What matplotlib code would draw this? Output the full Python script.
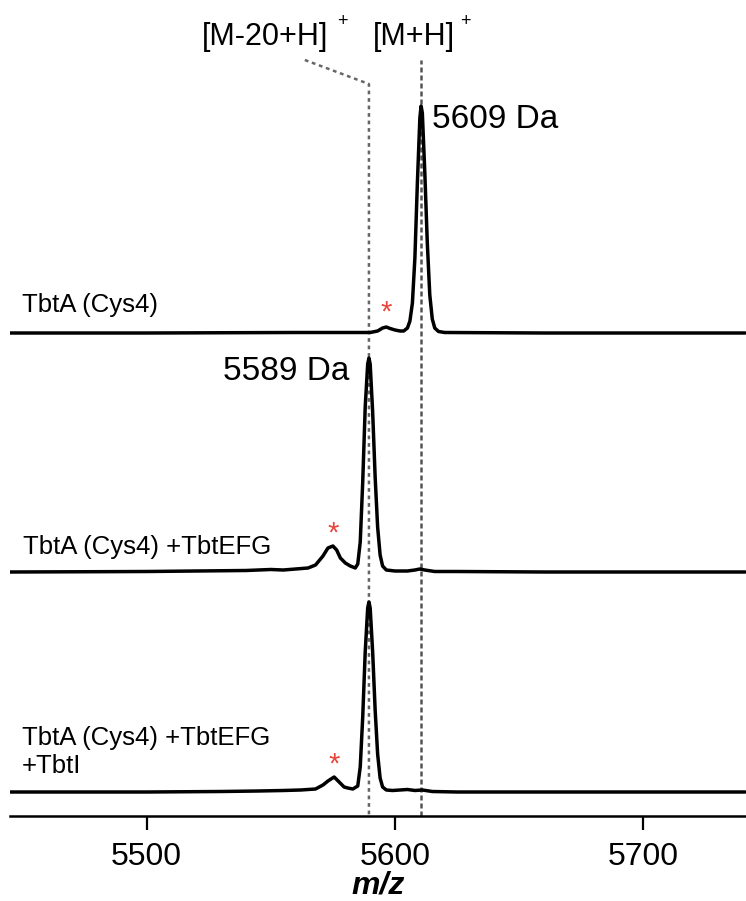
import matplotlib
matplotlib.use("Agg")
import matplotlib.pyplot as plt

plt.rcParams['font.family'] = ['Liberation Sans', 'DejaVu Sans']

# spectra (m/z, intensity in a.u.)
mz_cys4 = [5445, 5500, 5560, 5590, 5593, 5595, 5596.5, 5598, 5600, 5602, 5603.5,
           5605, 5606, 5607, 5608, 5609, 5610, 5610.5, 5611, 5612, 5613,
           5614, 5615, 5616, 5617.5, 5620, 5660, 5741]
int_cys4 = [0, 0, 0.5, 0.5, 2, 5, 6, 4.5, 3, 2, 2,
            5, 12, 30, 75, 150, 215, 227, 220, 160, 90,
            38, 14, 5, 1.5, 0.5, 0, 0]

mz_efg = [5445, 5480, 5500, 5520, 5540, 5550, 5555, 5560, 5565, 5568, 5571, 5573,
          5575, 5576.5, 5578, 5580, 5582, 5584, 5585, 5586, 5587, 5588,
          5589, 5589.5, 5590, 5591, 5592, 5593, 5594, 5595, 5596.5, 5600, 5605, 5608,
          5610, 5612, 5616, 5625, 5660, 5741]
int_efg = [0, 0.3, 0.5, 1, 1.5, 2.5, 2, 3, 4, 7, 16, 24,
           26, 22, 14, 9, 6, 4, 8, 30, 90, 165,
           208, 214, 208, 160, 95, 45, 17, 6, 2, 1, 1, 2,
           3, 2, 0.5, 0.5, 0, 0]

mz_efgi = [5445, 5500, 5530, 5545, 5555, 5562, 5568, 5571, 5573, 5575.5, 5577.5,
           5579.5, 5581, 5583, 5585, 5586, 5587, 5588, 5589, 5589.5, 5590,
           5591, 5592, 5593, 5594, 5595, 5596.5, 5599, 5602, 5605, 5608, 5611,
           5615, 5625, 5741]
int_efgi = [0, 0, 0.5, 1, 1.5, 2, 3, 7, 11, 15, 10,
            5, 4, 3, 6, 25, 75, 140, 184, 190, 184,
            140, 82, 38, 14, 5, 2, 1.5, 2, 2.5, 1.5, 2,
            0.5, 0, 0]

spectra = [(mz_cys4, int_cys4), (mz_efg, int_efg), (mz_efgi, int_efgi)]
labels = ['TbtA (Cys4)', 'TbtA (Cys4) +TbtEFG', 'TbtA (Cys4) +TbtEFG\n+TbtI']
impurity_mz = [5596.4, 5575, 5575.4]
mass_full = 5610.5   # [M+H]+
mass_minus20 = 5589.5  # [M-20+H]+

W, H = 746, 901
fig = plt.figure(figsize=(W / 100, H / 100), dpi=100)
ax = fig.add_axes([10 / W, (H - 816) / H, 736 / W, 816 / H])
ax.set_xlim(5445, 5741.3)
ax.set_ylim(0, 816)

offsets = [483, 244, 24]
for (mz, inten), off in zip(spectra, offsets):
    ax.plot(mz, [v + off for v in inten], color='black', lw=2.5,
            solid_joinstyle='round', solid_capstyle='round')

# asterisks over the side peaks
ast_y = [816 - 313, 816 - 534, 816 - 765]
for x, y in zip(impurity_mz, ast_y):
    ax.text(x, y, '*', color='#e8453c', fontsize=21, ha='center', va='center')

# reference lines
ax.plot([mass_full, mass_full], [0, 756], color='#555555', lw=1.8,
        ls=(0, (2, 1.2)), zorder=0)
ax.plot([5563.7, mass_minus20, mass_minus20], [756, 732, 0], color='#666666',
        lw=1.8, ls=(0, (1.5, 1.5)), zorder=0)

# left labels
fig.text(22 / W, 1 - 305 / H, labels[0], fontsize=18.5, va='center')
fig.text(23 / W, 1 - 547 / H, labels[1], fontsize=18.5, va='center')
fig.text(22 / W, 1 - 752 / H, labels[2], fontsize=18.5, va='center', linespacing=1.2)

fig.text(432 / W, 1 - 119 / H, '5609 Da', fontsize=24, va='center')
fig.text(223 / W, 1 - 371 / H, '5589 Da', fontsize=24, va='center')

fig.text(202 / W, 1 - 37 / H, '[M-20+H]', fontsize=22, va='center')
fig.text(337 / W, 1 - 21 / H, '+', fontsize=13, va='center')
fig.text(373 / W, 1 - 37 / H, '[M+H]', fontsize=22, va='center')
fig.text(460 / W, 1 - 21 / H, '+', fontsize=13, va='center')

for s in ['top', 'left', 'right']:
    ax.spines[s].set_visible(False)
ax.spines['bottom'].set_linewidth(1.8)
ax.set_yticks([])
ax.set_xticks([5500, 5600, 5700])
ax.tick_params(axis='x', direction='out', length=10, width=1.6, labelsize=23, pad=9)
ax.set_xlabel('m/z', fontsize=23, fontweight='bold', fontstyle='italic', labelpad=-1)

fig.savefig('out.png', dpi=100)
